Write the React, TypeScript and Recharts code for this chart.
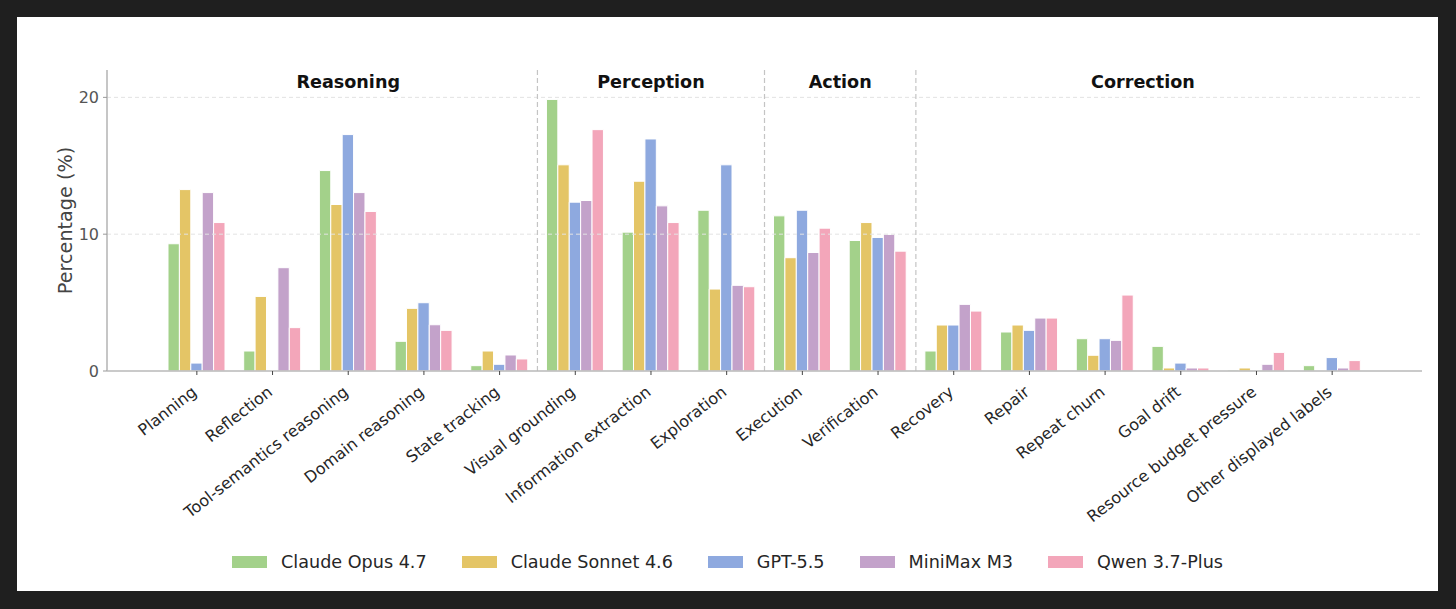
import React from 'react';
import { BarChart, Bar, XAxis, YAxis, ReferenceLine } from 'recharts';

const categories = [
  'Planning', 'Reflection', 'Tool-semantics reasoning', 'Domain reasoning', 'State tracking',
  'Visual grounding', 'Information extraction', 'Exploration',
  'Execution', 'Verification',
  'Recovery', 'Repair', 'Repeat churn', 'Goal drift', 'Resource budget pressure', 'Other displayed labels',
];

const opus = [9.3, 1.46, 14.65, 2.17, 0.39, 19.85, 10.15, 11.75, 11.34, 9.54, 1.46, 2.85, 2.36, 1.8, 0.07, 0.39];
const sonnet = [13.26, 5.45, 12.17, 4.58, 1.46, 15.07, 13.87, 5.99, 8.28, 10.85, 3.36, 3.36, 1.15, 0.22, 0.22, 0];
const gpt = [0.58, 0, 17.28, 4.99, 0.49, 12.34, 16.96, 15.07, 11.75, 9.76, 3.36, 2.97, 2.36, 0.58, 0.03, 0.98];
const minimax = [13.04, 7.55, 13.04, 3.38, 1.17, 12.46, 12.07, 6.26, 8.66, 9.98, 4.87, 3.87, 2.24, 0.22, 0.49, 0.22];
const qwen = [10.85, 3.17, 11.66, 2.97, 0.88, 17.64, 10.85, 6.16, 10.44, 8.76, 4.38, 3.87, 5.55, 0.22, 1.36, 0.76];

const seriesNames = ['Claude Opus 4.7', 'Claude Sonnet 4.6', 'GPT-5.5', 'MiniMax M3', 'Qwen 3.7-Plus'];
const seriesKeys = ['opus', 'sonnet', 'gpt', 'minimax', 'qwen'];
const seriesValues = [opus, sonnet, gpt, minimax, qwen];
const seriesColors = ['#a3d18a', '#e4c566', '#8ea9df', '#c3a2ca', '#f3a6ba'];

const sectionTitles = ['Reasoning', 'Perception', 'Action', 'Correction'];
const sectionStarts = [0, 5, 8, 10];
const sectionEnds = [4, 7, 9, 15];

const yTicks = [0, 10, 20];
const yMax = 22;

const FONT = '"DejaVu Sans", Verdana, sans-serif';

const data = categories.map((c, i) => {
  const row: Record<string, any> = { category: c };
  seriesKeys.forEach((k, s) => { row[k] = seriesValues[s][i]; });
  return row;
});

const XTick = (props: any) => {
  const { x, y, payload } = props;
  return (
    <text
      transform={`translate(${x + 1},${y + 17}) rotate(-38)`}
      textAnchor="end"
      fontSize={16}
      fontFamily={FONT}
      fill="#262626"
    >
      {payload.value}
    </text>
  );
};

const YLabel = (props: any) => {
  const vb = props.viewBox || { x: 47, y: 70, width: 60, height: 301 };
  const cx = vb.x + 24.5;
  const cy = vb.y + vb.height / 2;
  return (
    <text
      transform={`translate(${cx},${cy}) rotate(-90)`}
      textAnchor="middle"
      fontSize={19.2}
      fontFamily={FONT}
      fill="#444"
    >
      Percentage (%)
    </text>
  );
};

const makeTitle = (title: string) => (props: any) => {
  const vb = props.viewBox || { x: 0, y: 70, width: 0, height: 0 };
  return (
    <text
      x={vb.x + (vb.width || 0) / 2}
      y={vb.y + 17.5}
      textAnchor="middle"
      fontSize={17.6}
      fontWeight="bold"
      fontFamily={FONT}
      fill="#111"
    >
      {title}
    </text>
  );
};

// title anchor: the category at the centre of each section (band middle or band end)
const titleAnchors = sectionTitles.map((t, i) => {
  const mid = (sectionStarts[i] + sectionEnds[i]) / 2;
  const idx = Math.floor(mid);
  return { title: t, category: categories[idx], position: mid === idx ? 'middle' : 'end' };
});

export default function App() {
  return (
    <div style={{ position: 'fixed', left: 0, top: 0, width: 1456, height: 609, background: '#1f1f1f', overflow: 'hidden' }}>
      <div style={{ position: 'absolute', left: 17, top: 17, width: 1421, height: 574, background: '#ffffff' }} />
      <div style={{ position: 'absolute', left: 0, top: 0 }}>
        <BarChart
          width={1456}
          height={609}
          data={data}
          margin={{ top: 70, right: 34, left: 47, bottom: 108 }}
          barGap={0}
          barSize={11.4}
        >
          <XAxis
            dataKey="category"
            height={130}
            interval={0}
            padding={{ left: 52, right: 52 }}
            tick={<XTick />}
            tickSize={4}
            tickLine={{ stroke: '#444', strokeWidth: 1 }}
            axisLine={{ stroke: '#b8b8b8', strokeWidth: 1.6 }}
          />
          <YAxis
            width={60}
            domain={[0, yMax]}
            ticks={yTicks}
            allowDataOverflow
            tickSize={4}
            tickMargin={4}
            tick={{ fontSize: 16, fill: '#555', fontFamily: FONT }}
            tickLine={{ stroke: '#999', strokeWidth: 1 }}
            axisLine={{ stroke: '#b8b8b8', strokeWidth: 1.6 }}
            label={{ value: 'Percentage (%)', content: YLabel }}
          />
          {yTicks.filter((t) => t > 0).map((t) => (
            <ReferenceLine key={`grid-${t}`} y={t} stroke="#e3e3e3" strokeDasharray="4 3" strokeWidth={1} />
          ))}
          {sectionStarts.slice(1).map((s, i) => (
            <ReferenceLine
              key={`sep-${i}`}
              x={categories[s]}
              position="start"
              stroke="#c4c4c4"
              strokeWidth={1.2}
              strokeDasharray="5 3"
            />
          ))}
          {titleAnchors.map((a, i) => (
            <ReferenceLine
              key={`title-${i}`}
              x={a.category}
              position={a.position as any}
              stroke="none"
              strokeOpacity={0}
              label={{ value: a.title, content: makeTitle(a.title) }}
            />
          ))}
          {seriesKeys.map((k, s) => (
            <Bar
              key={k}
              dataKey={k}
              name={seriesNames[s]}
              fill={seriesColors[s]}
              stroke="#ffffff"
              strokeWidth={1}
              isAnimationActive={false}
            />
          ))}
        </BarChart>
      </div>
      <div
        style={{
          position: 'absolute', left: 17, width: 1421, top: 551, height: 22,
          display: 'flex', justifyContent: 'center', alignItems: 'center',
          fontFamily: FONT, fontSize: 17.6, color: '#262626', whiteSpace: 'nowrap',
        }}
      >
        {seriesNames.map((n, s) => (
          <div key={n} style={{ display: 'flex', alignItems: 'center', marginRight: s < seriesNames.length - 1 ? 35 : 0 }}>
            <span style={{ display: 'inline-block', width: 35, height: 12.3, background: seriesColors[s], marginRight: 14 }} />
            <span>{n}</span>
          </div>
        ))}
      </div>
    </div>
  );
}
